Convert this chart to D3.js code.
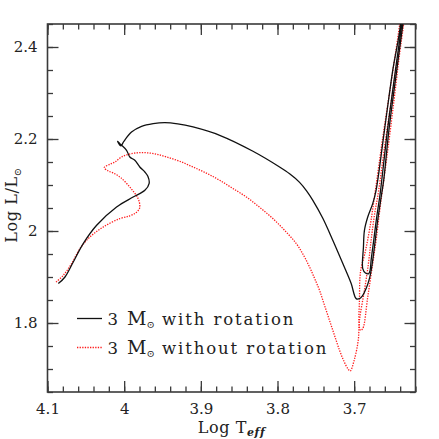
<!DOCTYPE html>
<html>
<head>
<meta charset="utf-8">
<script src="https://cdn.jsdelivr.net/npm/d3@7"></script>
<style>
  body { margin: 0; background: #fff; }
  text { font-family: "DejaVu Serif", serif; fill: #222; }
</style>
</head>
<body>
<div id="chart"></div>
<script>
// evolutionary tracks, [log Teff, log L/Lsun]
// 3 Msun with rotation: MS, hook, Hertzsprung gap, up the RGB
var rotTrackA = [
  [4.0859, 1.8857], [4.0772, 1.9000], [4.0664, 1.9326], [4.0534, 1.9726],
  [4.0359, 2.0124], [4.0099, 2.0522], [3.9883, 2.0739], [3.9730, 2.0885],
  [3.9674, 2.1037], [3.9691, 2.1189], [3.9730, 2.1283], [3.9796, 2.1391],
  [3.9861, 2.1537], [3.9926, 2.1609], [3.9969, 2.1754], [4.0056, 2.1900],
  [4.0086, 2.1950], [4.0043, 2.1852], [4.0004, 2.1950], [3.9904, 2.2152],
  [3.9773, 2.2276], [3.9622, 2.2335], [3.9470, 2.2357], [3.9301, 2.2330],
  [3.9102, 2.2261], [3.8754, 2.2080], [3.8320, 2.1733], [3.7973, 2.1391],
  [3.7842, 2.1243], [3.7712, 2.1058], [3.7621, 2.0874], [3.7539, 2.0667],
  [3.7409, 2.0276], [3.7279, 1.9798],
  [3.7148, 1.9291], [3.7039, 1.8857], [3.6974, 1.8530], [3.6931, 1.8530],
  [3.6892, 1.8591], [3.6844, 1.8748], [3.6801, 1.8965], [3.6771, 1.9217],
  [3.6736, 1.9652], [3.6693, 2.0233], [3.6648, 2.0739], [3.6615, 2.1102],
  [3.6547, 2.2189], [3.6445, 2.3493], [3.6365, 2.4493], [3.6339, 2.4800]
];
// with rotation: back down after the RGB tip, loop, then up again
var rotTrackB = [
  [3.6410, 2.4800], [3.6397, 2.4493], [3.6497, 2.3493], [3.6605, 2.2189],
  [3.6714, 2.0885], [3.6758, 2.0596], [3.6823, 2.0304], [3.6866, 2.0015],
  [3.6879, 1.9652], [3.6888, 1.9183], [3.6853, 1.9087], [3.6810, 1.9074],
  [3.6792, 1.9146], [3.6779, 1.9363], [3.6745, 1.9798], [3.6706, 2.0304],
  [3.6661, 2.0813], [3.6566, 2.2189], [3.6462, 2.3493], [3.6378, 2.4493],
  [3.6352, 2.4800]
];
// 3 Msun without rotation
var noRotTrackA = [
  [4.0889, 1.8891], [4.0794, 1.9037], [4.0685, 1.9291], [4.0577, 1.9617],
  [4.0447, 1.9870], [4.0273, 2.0087], [4.0056, 2.0270], [3.9926, 2.0330],
  [3.9848, 2.0396], [3.9802, 2.0483], [3.9796, 2.0559], [3.9818, 2.0704],
  [3.9913, 2.0928], [4.0043, 2.1157], [4.0147, 2.1265], [4.0212, 2.1309],
  [4.0260, 2.1378], [4.0186, 2.1450], [4.0121, 2.1500], [4.0034, 2.1609],
  [3.9904, 2.1683], [3.9753, 2.1704], [3.9600, 2.1678], [3.9448, 2.1609],
  [3.9275, 2.1515], [3.9102, 2.1391], [3.8923, 2.1254], [3.8754, 2.1102],
  [3.8585, 2.0928], [3.8406, 2.0739], [3.8233, 2.0515], [3.8060, 2.0270],
  [3.7895, 1.9993], [3.7755, 1.9726], [3.7660, 1.9472], [3.7582, 1.9217],
  [3.7517, 1.8972], [3.7452, 1.8711], [3.7387, 1.8385], [3.7322, 1.8059],
  [3.7257, 1.7733], [3.7191, 1.7407], [3.7139, 1.7189], [3.7083, 1.7009],
  [3.7052, 1.6957], [3.7000, 1.7189], [3.6947, 1.7624], [3.6931, 1.8059],
  [3.6866, 1.8711], [3.6814, 1.9291], [3.6779, 1.9798], [3.6736, 2.0341],
  [3.6680, 2.0885], [3.6592, 2.1972], [3.6475, 2.3276], [3.6371, 2.4450],
  [3.6345, 2.4800]
];
var noRotTrackB = [
  [3.6384, 2.4800], [3.6410, 2.4450], [3.6514, 2.3276], [3.6632, 2.1972],
  [3.6723, 2.0885], [3.6801, 2.0015], [3.6866, 1.9472], [3.6905, 1.9233],
  [3.6924, 1.9000], [3.6931, 1.8493], [3.6937, 1.8015], [3.6918, 1.7841],
  [3.6888, 1.7878], [3.6823, 1.8565], [3.6758, 1.9291], [3.6714, 1.9798],
  [3.6658, 2.0559], [3.6579, 2.1537], [3.6488, 2.2733], [3.6410, 2.3820],
  [3.6358, 2.4450], [3.6332, 2.4800]
];

var xMajor = [4.1, 4.0, 3.9, 3.8, 3.7];
var xLabels = ["4.1", "4", "3.9", "3.8", "3.7"];
var yMajor = [1.8, 2.0, 2.2, 2.4];
var yLabels = ["1.8", "2", "2.2", "2.4"];

// layout
var W = 439, H = 439;
var margin = { left: 47.5, right: 23.5, top: 24, bottom: 47 };
var frameColor = "#3a3a3a";
var redDots = "#ff1a1a";

var svg = d3.select("#chart").append("svg")
  .attr("width", W)
  .attr("height", H);

var x = d3.scaleLinear().domain([4.1, 3.62]).range([margin.left, W - margin.right]);
var y = d3.scaleLinear().domain([1.65, 2.45]).range([H - margin.bottom, margin.top]);

var xMinor = d3.range(4.1, 3.619, -0.02).map(function (d) { return +d.toFixed(2); });
var yMinor = d3.range(1.65, 2.451, 0.05).map(function (d) { return +d.toFixed(2); });

// ticks point inwards on all four sides
function addAxis(axisFn, scale, tr, vals, size, fmt, pad) {
  var g = svg.append("g")
    .attr("transform", tr)
    .call(axisFn(scale).tickValues(vals).tickSize(size).tickSizeOuter(0)
      .tickPadding(pad).tickFormat(fmt));
  g.select(".domain").remove();
  g.selectAll("line").attr("stroke", frameColor).attr("stroke-width", 1.3);
  g.selectAll("text").style("font-size", "15px").attr("fill", "#222");
  return g;
}
var none = function () { return ""; };
var trBottom = "translate(0," + y.range()[0] + ")";
var trTop = "translate(0," + y.range()[1] + ")";
var trLeft = "translate(" + x.range()[0] + ",0)";
var trRight = "translate(" + x.range()[1] + ",0)";

addAxis(d3.axisBottom, x, trBottom, xMinor, -5.5, none, 0);
addAxis(d3.axisBottom, x, trBottom, xMajor, -11, function (d, i) { return xLabels[i]; }, 11);
addAxis(d3.axisTop, x, trTop, xMinor, -5.5, none, 0);
addAxis(d3.axisTop, x, trTop, xMajor, -11, none, 0);
addAxis(d3.axisLeft, y, trLeft, yMinor, -5.5, none, 0);
addAxis(d3.axisLeft, y, trLeft, yMajor, -11, function (d, i) { return yLabels[i]; }, 10);
addAxis(d3.axisRight, y, trRight, yMinor, -5.5, none, 0);
addAxis(d3.axisRight, y, trRight, yMajor, -11, none, 0);

// frame
svg.append("rect")
  .attr("x", x.range()[0])
  .attr("y", y.range()[1])
  .attr("width", x.range()[1] - x.range()[0])
  .attr("height", y.range()[0] - y.range()[1])
  .attr("fill", "none")
  .attr("stroke", frameColor)
  .attr("stroke-width", 1.6);

svg.append("clipPath").attr("id", "plotClip")
  .append("rect")
  .attr("x", x.range()[0])
  .attr("y", y.range()[1])
  .attr("width", x.range()[1] - x.range()[0])
  .attr("height", y.range()[0] - y.range()[1]);

var line = d3.line()
  .x(function (d) { return x(d[0]); })
  .y(function (d) { return y(d[1]); })
  .curve(d3.curveCatmullRom.alpha(0.5));

var gTracks = svg.append("g").attr("clip-path", "url(#plotClip)");

[noRotTrackA, noRotTrackB].forEach(function (t) {
  gTracks.append("path").datum(t)
    .attr("d", line)
    .attr("fill", "none")
    .attr("stroke", redDots)
    .attr("stroke-width", 1.3)
    .attr("stroke-dasharray", "1.3,1.3");
});
[rotTrackA, rotTrackB].forEach(function (t) {
  gTracks.append("path").datum(t)
    .attr("d", line)
    .attr("fill", "none")
    .attr("stroke", "#111")
    .attr("stroke-width", 1.3);
});

// legend
var legend = [
  { label: "with rotation", stroke: "#111", dash: null, width: 1.3, ly: 318.5, ty: 324.5 },
  { label: "without rotation", stroke: redDots, dash: "1.3,1.3", width: 1.3, ly: 347.5, ty: 353.5 }
];
legend.forEach(function (d) {
  svg.append("line")
    .attr("x1", 77).attr("x2", 102)
    .attr("y1", d.ly).attr("y2", d.ly)
    .attr("stroke", d.stroke)
    .attr("stroke-width", d.width)
    .attr("stroke-dasharray", d.dash);
  var t = svg.append("text").attr("y", d.ty)
    .style("font-size", "16.5px")
    .style("letter-spacing", "1.9px");
  t.append("tspan").attr("x", 107.5).text("3");
  t.append("tspan").attr("x", 127).style("font-size", "19px").style("letter-spacing", "0px").text("M");
  t.append("tspan").attr("dy", 3.5).style("font-size", "10px").style("letter-spacing", "0px").text("\u2299");
  t.append("tspan").attr("x", 162).attr("dy", -3.5).text(d.label);
});

// axis titles
var xt = svg.append("text")
  .attr("x", (x.range()[0] + x.range()[1]) / 2)
  .attr("y", 433)
  .attr("text-anchor", "middle")
  .style("font-size", "16px")
  .style("letter-spacing", "0.6px");
xt.append("tspan").text("Log  T");
xt.append("tspan").attr("dy", 3).style("font-size", "11px")
  .style("font-weight", "bold").style("font-style", "italic").text("eff");

var yt = svg.append("text")
  .attr("transform", "translate(17," + 205 + ") rotate(-90)")
  .attr("text-anchor", "middle")
  .style("font-size", "16px")
  .style("letter-spacing", "0.6px");
yt.append("tspan").text("Log L/L");
yt.append("tspan").attr("dy", 4).style("font-size", "10px").text("\u2299");
</script>
</body>
</html>
